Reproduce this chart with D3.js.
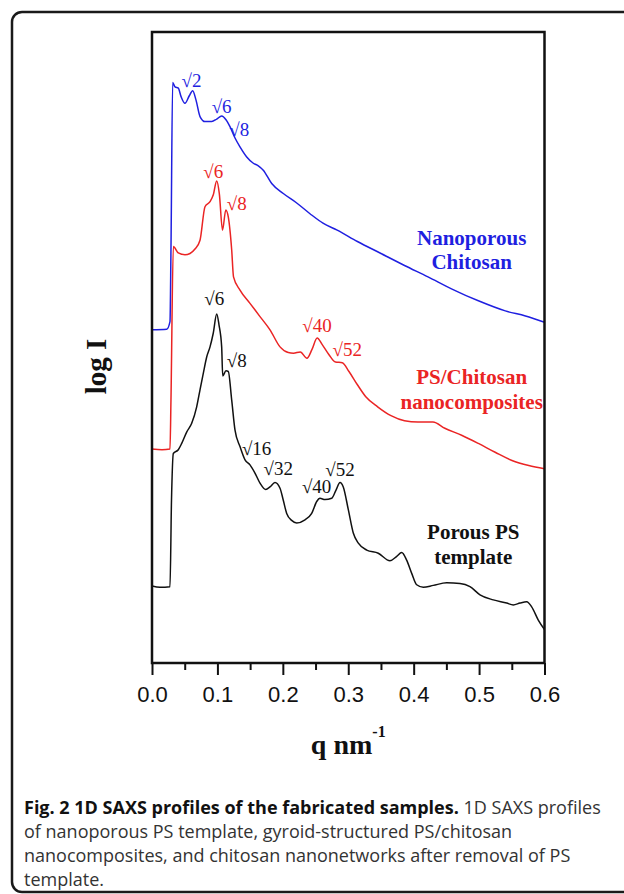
<!DOCTYPE html>
<html>
<head>
<meta charset="UTF-8">
<title>1D SAXS profiles</title>
<style>
    body { margin: 0; background: #fff; }
    .tick text { font: 22px "Liberation Sans", Arial, sans-serif; fill: #111; }
    .tick line { stroke: #111; stroke-width: 2px; }
    .curve { fill: none; stroke-width: 1.5px; stroke-linejoin: round; }
    .peak { font: 19px "Liberation Serif", "DejaVu Serif", serif; }
    .name { font: bold 21px "Liberation Serif", "Times New Roman", serif; text-anchor: middle; }
    .caption { font: 18px "Open Sans", sans-serif; fill: #222; }
</style>
</head>
<body>
<script src="https://cdn.jsdelivr.net/npm/d3@7/dist/d3.min.js"></script>
<svg id="fig" width="624" height="894"></svg>
<script>
// q (nm^-1) and log I (arbitrary, offset)
var nanoporousChitosan = [
    [0, 5.28], [0.0225, 5.29], [0.0275, 5.41], [0.029, 6.55], [0.0316, 9.20], [0.0352, 9.13],
    [0.0402, 9.11], [0.0443, 8.98], [0.0504, 8.87], [0.057, 8.99], [0.0622, 9.07], [0.0673, 8.92],
    [0.0734, 8.66], [0.081, 8.58], [0.0913, 8.58], [0.0989, 8.62], [0.1065, 8.67], [0.1131, 8.61],
    [0.1192, 8.50], [0.1269, 8.32], [0.1345, 8.18], [0.1448, 8.02], [0.1549, 7.92], [0.1625, 7.88],
    [0.1701, 7.81], [0.183, 7.60], [0.2007, 7.44], [0.2212, 7.29], [0.2415, 7.12], [0.2614, 6.97],
    [0.2831, 6.86], [0.314, 6.68], [0.35, 6.49], [0.386, 6.30], [0.4219, 6.12], [0.4578, 5.93],
    [0.4989, 5.74], [0.5401, 5.58], [0.5709, 5.50], [0.6, 5.40]
];
var psChitosan = [
    [0, 3.39], [0.0153, 3.38], [0.0275, 3.39], [0.029, 4.17], [0.0326, 6.60], [0.0402, 6.50],
    [0.0504, 6.47], [0.0581, 6.49], [0.0657, 6.56], [0.0734, 6.70], [0.081, 7.23], [0.0887, 7.31],
    [0.0937, 7.42], [0.0989, 7.64], [0.1029, 7.44], [0.1078, 6.86], [0.1128, 7.18], [0.1166, 7.07],
    [0.1218, 6.55], [0.1246, 6.12], [0.1345, 5.91], [0.1498, 5.70], [0.1651, 5.49], [0.1804, 5.28],
    [0.1957, 5.01], [0.2083, 4.92], [0.2163, 4.91], [0.2267, 4.93], [0.2369, 4.83], [0.2446, 4.97],
    [0.2525, 5.15], [0.26, 5.05], [0.2703, 4.89], [0.2805, 4.77], [0.2909, 4.76], [0.3011, 4.62],
    [0.314, 4.41], [0.3268, 4.22], [0.3449, 4.06], [0.3653, 3.92], [0.386, 3.84], [0.4065, 3.82],
    [0.4295, 3.82], [0.4476, 3.72], [0.4733, 3.61], [0.4989, 3.48], [0.5246, 3.34], [0.5503, 3.21],
    [0.576, 3.13], [0.6, 3.08]
];
var porousPS = [
    [0, 1.22], [0.0122, 1.20], [0.0275, 1.21], [0.0298, 2.58], [0.0326, 3.32], [0.0402, 3.38],
    [0.0454, 3.48], [0.053, 3.66], [0.0607, 3.80], [0.0683, 4.06], [0.0734, 4.33], [0.0784, 4.59],
    [0.0836, 4.85], [0.0887, 5.01], [0.0937, 5.23], [0.0989, 5.53], [0.1024, 5.36], [0.1065, 5.01],
    [0.1081, 4.55], [0.1131, 4.63], [0.1166, 4.62], [0.1218, 4.17], [0.1269, 3.69], [0.1345, 3.43],
    [0.1422, 3.22], [0.1498, 3.14], [0.1574, 3.01], [0.1651, 2.85], [0.1738, 2.75], [0.1804, 2.79],
    [0.188, 2.86], [0.1957, 2.77], [0.2007, 2.58], [0.2059, 2.37], [0.2135, 2.26], [0.2212, 2.22],
    [0.2339, 2.27], [0.2441, 2.37], [0.2518, 2.56], [0.2568, 2.61], [0.2644, 2.59], [0.2747, 2.61],
    [0.2813, 2.74], [0.2874, 2.86], [0.2924, 2.79], [0.3001, 2.43], [0.3077, 2.06], [0.3154, 1.90],
    [0.3282, 1.79], [0.3459, 1.74], [0.3638, 1.62], [0.3741, 1.69], [0.3817, 1.75], [0.3893, 1.63],
    [0.397, 1.42], [0.4046, 1.24], [0.4147, 1.20], [0.43, 1.23], [0.4505, 1.27], [0.4708, 1.26],
    [0.4861, 1.21], [0.5014, 1.08], [0.5217, 1.00], [0.5422, 0.95], [0.5523, 0.92], [0.5625, 0.95],
    [0.5728, 0.97], [0.5804, 0.89], [0.5905, 0.68], [0.6, 0.53]
];

// peak index labels: text, q, log I of the label centre
var chitosanPeaks = [["√2", 0.0605, 9.24], ["√6", 0.1065, 8.82], ["√8", 0.1334, 8.47]];
var compositePeaks = [["√6", 0.0937, 7.79], ["√8", 0.1295, 7.29], ["√40", 0.2522, 5.36], ["√52", 0.2985, 4.97]];
var templatePeaks = [["√6", 0.0952, 5.78], ["√8", 0.1295, 4.80], ["√16", 0.160, 3.40],
    ["√32", 0.1931, 3.09], ["√40", 0.2517, 2.81], ["√52", 0.2874, 3.07]];

// sample names: line text, q of centre, log I of baseline
var chitosanName = [["Nanoporous", 0.4887, 6.63], ["Chitosan", 0.4887, 6.24]];
var compositeName = [["PS/Chitosan", 0.4887, 4.42], ["nanocomposites", 0.4887, 4.03]];
var templateName = [["Porous PS", 0.4911, 1.97], ["template", 0.4911, 1.57]];

var majorTicks = [0, 0.1, 0.2, 0.3, 0.4, 0.5, 0.6];
var minorTicks = [0.05, 0.15, 0.25, 0.35, 0.45, 0.55];

var captionLines = [
    [["Fig. 2 1D SAXS profiles of the fabricated samples.", true], [" 1D SAXS profiles", false]],
    [["of nanoporous PS template, gyroid-structured PS/chitosan", false]],
    [["nanocomposites, and chitosan nanonetworks after removal of PS", false]],
    [["template.", false]]
];

var blue = "#1f1fe0", red = "#ea2424", black = "#111";

var svg = d3.select("#fig");

// outer panel frame
svg.append("rect")
    .attr("x", 12).attr("y", 12)
    .attr("width", 640).attr("height", 880)
    .attr("rx", 10)
    .attr("fill", "none").attr("stroke", "#1a1a1a").attr("stroke-width", 2.5);

var x = d3.scaleLinear().domain([0, 0.6]).range([152, 544.5]);
var y = d3.scaleLinear().domain([0, 10]).range([663, 32]);

var line = d3.line()
    .curve(d3.curveMonotoneX)
    .x(function (d) { return x(d[0]); })
    .y(function (d) { return y(d[1]); });

var series = [
    { data: nanoporousChitosan, color: blue, peaks: chitosanPeaks, name: chitosanName },
    { data: psChitosan, color: red, peaks: compositePeaks, name: compositeName },
    { data: porousPS, color: black, peaks: templatePeaks, name: templateName }
];

series.forEach(function (s) {
    svg.append("path")
        .attr("class", "curve")
        .attr("stroke", s.color)
        .attr("d", line(s.data));

    svg.selectAll(null)
        .data(s.peaks)
        .enter().append("text")
        .attr("class", "peak")
        .attr("fill", s.color)
        .attr("text-anchor", "middle")
        .attr("x", function (d) { return x(d[1]); })
        .attr("y", function (d) { return y(d[2]) + 7; })
        .text(function (d) { return d[0]; });

    svg.selectAll(null)
        .data(s.name)
        .enter().append("text")
        .attr("class", "name")
        .attr("fill", s.color)
        .attr("x", function (d) { return x(d[1]); })
        .attr("y", function (d) { return y(d[2]); })
        .text(function (d) { return d[0]; });
});

// plot box
svg.append("rect")
    .attr("x", x(0)).attr("y", y(10))
    .attr("width", x(0.6) - x(0)).attr("height", y(0) - y(10))
    .attr("fill", "none").attr("stroke", "#111").attr("stroke-width", 2.5);

// x axis, major ticks with labels and minor ticks without
var gx = svg.append("g").attr("transform", "translate(0," + y(0) + ")");
gx.call(d3.axisBottom(x).tickValues(majorTicks).tickSize(12).tickSizeOuter(0)
    .tickPadding(11).tickFormat(d3.format(".1f")));
gx.append("g").call(d3.axisBottom(x).tickValues(minorTicks).tickSize(7).tickSizeOuter(0).tickFormat(""));
gx.selectAll(".domain").remove();

// axis titles
var xt = svg.append("text")
    .attr("x", x(0.3)).attr("y", 754)
    .attr("text-anchor", "middle")
    .style("font", "bold 28px 'Liberation Serif', 'Times New Roman', serif")
    .attr("fill", "#111");
xt.append("tspan").text("q nm");
xt.append("tspan").attr("dy", -17).style("font-size", "16px").text("-1");

svg.append("text")
    .attr("transform", "translate(106," + y(4.7) + ") rotate(-90)")
    .attr("text-anchor", "middle")
    .style("font", "bold 29px 'Liberation Serif', 'Times New Roman', serif")
    .attr("fill", "#111")
    .text("log I");

// caption
captionLines.forEach(function (parts, i) {
    var t = svg.append("text")
        .attr("class", "caption")
        .attr("x", 24)
        .attr("y", 814 + i * 24);
    parts.forEach(function (p) {
        t.append("tspan")
            .style("font-weight", p[1] ? "bold" : "normal")
            .attr("fill", p[1] ? "#111" : "#333")
            .text(p[0]);
    });
});
</script>
</body>
</html>
